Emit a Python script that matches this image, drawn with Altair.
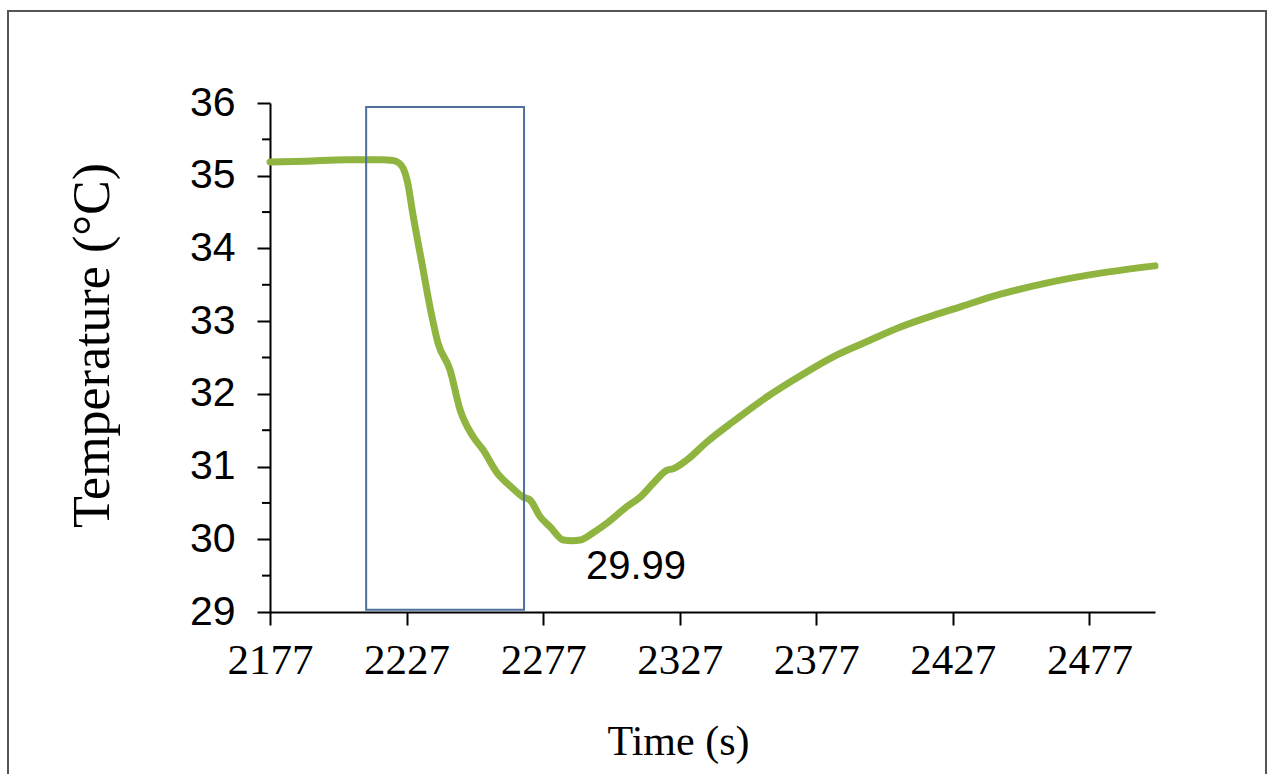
import altair as alt
import pandas as pd

# ---- data ----
time_s = [2177, 2190, 2205, 2218, 2222, 2224.0, 2225.8, 2227.3, 2229.4, 2232.6, 2235.6,
          2238.5, 2242.9, 2246.6, 2251.4, 2255.0, 2260.2, 2265.0, 2269.7, 2272.2,
          2275.9, 2279.6, 2284.4, 2287.5, 2290.6, 2295.3, 2300.3, 2307.7, 2312.5,
          2317.3, 2322.3, 2324.6, 2329.6, 2337.0, 2346.6, 2359.0, 2368.6, 2383.2,
          2395.6, 2407.8, 2419.9, 2430.0, 2444.4, 2462.0, 2481.0, 2501.0]
temp_c = [35.19, 35.20, 35.22, 35.22, 35.21, 35.18, 35.10, 34.92, 34.45, 33.80, 33.19,
          32.70, 32.33, 31.78, 31.41, 31.23, 30.91, 30.73, 30.58, 30.54,
          30.31, 30.17, 29.99, 29.98, 29.99, 30.09, 30.22, 30.45, 30.58,
          30.77, 30.95, 30.97, 31.09, 31.34, 31.62, 31.96, 32.19, 32.51,
          32.72, 32.92, 33.08, 33.20, 33.37, 33.53, 33.66, 33.76]

x_ticks = [2177, 2227, 2277, 2327, 2377, 2427, 2477]
y_ticks = [29, 30, 31, 32, 33, 34, 35, 36]
y_minor = [29.5, 30.5, 31.5, 32.5, 33.5, 34.5, 35.5]
x_domain = [2177, 2501]
y_domain = [29, 36]

box_x = [2212.2]
box_x2 = [2270.0]
box_y = [29.03]
box_y2 = [35.945]

annot_x = [2311]
annot_y = [29.62]
annot_text = ["29.99"]

line_df = pd.DataFrame({"t": time_s, "temp": temp_c})
minor_df = pd.DataFrame({"v": y_minor})
box_df = pd.DataFrame({"x": box_x, "x2": box_x2, "y": box_y, "y2": box_y2})
annot_df = pd.DataFrame({"t": annot_x, "temp": annot_y, "label": annot_text})

W, H = 885, 509

xscale = alt.Scale(domain=x_domain, nice=False, zero=False)
yscale = alt.Scale(domain=y_domain, nice=False, zero=False)

x_axis = alt.Axis(
    title="Time (s)", values=x_ticks, format="d", grid=False,
    labelFont="Liberation Serif", labelFontSize=43, labelColor="black",
    labelPadding=14, labelFlush=False, labelOverlap=False,
    tickSize=13, tickWidth=2, tickColor="black",
    domainColor="black", domainWidth=2,
    titleFont="Liberation Serif", titleFontSize=42, titleFontWeight="normal",
    titleColor="black", titleX=408, titleY=129, titleBaseline="middle",
    titleAlign="center",
)
y_axis = alt.Axis(
    title="Temperature (°C)", values=y_ticks, format="d", grid=False,
    labelFont="Liberation Sans", labelFontSize=41, labelColor="black",
    labelPadding=22, labelFlush=False, labelOverlap=False,
    tickSize=13, tickWidth=2, tickColor="black",
    domainColor="black", domainWidth=2,
    titleFont="Liberation Serif", titleFontSize=52, titleFontWeight="normal",
    titleColor="black", titleX=-178, titleY=242, titleAngle=-90,
    titleBaseline="middle", titleAlign="center",
)

border = alt.Chart(pd.DataFrame({"k": [0]})).mark_rect(
    fill="white", fillOpacity=0, stroke="#555555", strokeWidth=2
).encode(
    x=alt.value(-262), x2=alt.value(996), y=alt.value(-92), y2=alt.value(690)
)

line = alt.Chart(line_df).mark_line(
    color="#8FB540", strokeWidth=7, interpolate="monotone", strokeCap="round",
    strokeJoin="round"
).encode(
    x=alt.X("t:Q", scale=xscale, axis=x_axis),
    y=alt.Y("temp:Q", scale=yscale, axis=y_axis),
)

minor = alt.Chart(minor_df).mark_rule(color="black", strokeWidth=2).encode(
    y=alt.Y("v:Q", scale=yscale),
    x=alt.value(-8), x2=alt.value(0),
)

box = alt.Chart(box_df).mark_rect(
    fillOpacity=0, fill="white", stroke="#4F6F9C", strokeWidth=2
).encode(
    x=alt.X("x:Q", scale=xscale), x2="x2:Q",
    y=alt.Y("y:Q", scale=yscale), y2="y2:Q",
)

annot = alt.Chart(annot_df).mark_text(
    font="Liberation Sans", fontSize=40, color="black", align="center",
    baseline="middle"
).encode(
    x=alt.X("t:Q", scale=xscale), y=alt.Y("temp:Q", scale=yscale),
    text="label:N",
)

chart = alt.layer(border, line, minor, box, annot).properties(
    width=W, height=H,
    autosize=alt.AutoSizeParams(type="none"),
    padding={"left": 270, "top": 103, "right": 117, "bottom": 162},
    background="white",
).configure_view(strokeWidth=0)

chart.save("out.html", embed_options={"renderer": "svg", "actions": False})
